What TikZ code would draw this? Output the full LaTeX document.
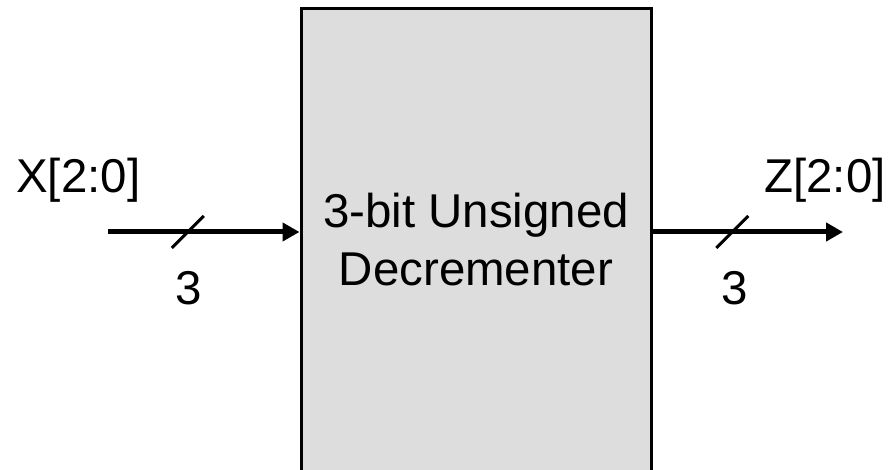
\documentclass[tikz,border=0pt]{standalone}
\usepackage{fontspec}
\setmainfont{Liberation Sans}
\usepackage{tikz}
\usetikzlibrary{calc}
\usetikzlibrary{arrows.meta}
\usetikzlibrary{positioning}
\usepackage{color}
\definecolor{boxgray}{RGB}{221, 221, 221}
\tikzset{
    blockbox/.style={draw=black, fill=boxgray, line width=0.06cm, align=center,
                     minimum width=7.00cm, minimum height=9.26cm, inner sep=0pt,
                     font=\fontsize{27}{33}\selectfont},
    busline/.style={line width=0.10cm, -{Triangle[length=0.34cm, width=0.36cm]}},
    buscut/.style={line width=0.06cm},
    sigtext/.style={inner sep=0pt, font=\fontsize{27}{33}\selectfont}
}

\begin{document}
\begin{tikzpicture}
            \useasboundingbox                                             ( 0.00, 0.00) rectangle (17.84, 9.38);
            \node[blockbox] (dec)                                         at ( 9.52, 4.58) {3-bit Unsigned\\Decrementer};
            \coordinate (xin)                                             at ( 2.16, 4.74);
            \coordinate (zout)                                            at (16.86, 4.74);
            \draw[busline] (xin) -- coordinate[pos=0.417] (xcut) (xin -| dec.west);
            \draw[busline] (zout -| dec.east) -- coordinate[pos=0.419] (zcut) (zout);
            \draw[buscut]  ($(xcut)+(-0.32,-0.32)$) -- ($(xcut)+(0.32,0.32)$);
            \draw[buscut]  ($(zcut)+(-0.32,-0.32)$) -- ($(zcut)+(0.32,0.32)$);
            \node[sigtext, anchor=base west] (xname)                      at ( 0.32, 5.52) {X[2:0]};
            \node[sigtext, anchor=base east] (zname)                      at (17.72, 5.52) {Z[2:0]};
            \node[sigtext, anchor=base]      (xwidth)                     at ( 3.78, 3.28) {3};
            \node[sigtext, anchor=base]      (zwidth)                     at (14.70, 3.28) {3};
        \end{tikzpicture}
\end{document}
